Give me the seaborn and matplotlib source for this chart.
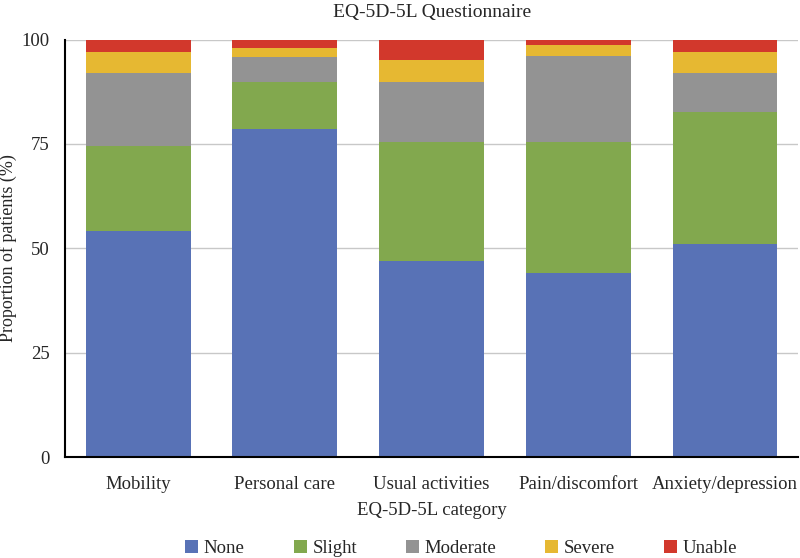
import pandas as pd
import numpy as np
import matplotlib
matplotlib.use('Agg')
import matplotlib.pyplot as plt
import seaborn as sns

# EQ-5D-5L answers, % of patients per category
categories = ['Mobility', 'Personal care', 'Usual activities', 'Pain/discomfort', 'Anxiety/depression']
levels = ['None', 'Slight', 'Moderate', 'Severe', 'Unable']
none_pct = [54.1, 78.7, 46.9, 44.0, 51.1]
slight_pct = [20.4, 11.1, 28.6, 31.5, 31.6]
moderate_pct = [17.4, 6.0, 14.4, 20.5, 9.2]
severe_pct = [5.1, 2.2, 5.1, 2.7, 5.1]
unable_pct = [3.0, 2.0, 5.0, 1.3, 3.0]

colors = ['#5872B6', '#82A84E', '#939393', '#E6B832', '#D2382C']

sns.set_theme(style='white')
plt.rcParams['font.family'] = ['Liberation Serif', 'DejaVu Serif']

df = pd.DataFrame({'category': categories, 'None': none_pct, 'Slight': slight_pct,
                   'Moderate': moderate_pct, 'Severe': severe_pct, 'Unable': unable_pct})
cum = df[levels].cumsum(axis=1)

fig = plt.figure(figsize=(8, 5.58), dpi=100)
ax = fig.add_axes([0.081, 0.181, 0.917, 0.748])

# draw cumulative totals from top down so each level sits on the one below
for lvl, col in reversed(list(zip(levels, colors))):
    sns.barplot(x=df['category'], y=cum[lvl], color=col, width=0.715,
                saturation=1, ax=ax, label=lvl, zorder=2, linewidth=0)

ax.set_ylim(0, 100)
ax.set_yticks([0, 25, 50, 75, 100])
ax.yaxis.grid(True, color='#c8c8c8', linewidth=1, zorder=0)
ax.set_axisbelow(True)
for s in ['top', 'right']:
    ax.spines[s].set_visible(False)
for s in ['left', 'bottom']:
    ax.spines[s].set_color('black')
    ax.spines[s].set_linewidth(1.5)
ax.tick_params(axis='x', labelsize=13.5, length=0, pad=14)
ax.tick_params(axis='y', labelsize=13.5, length=0, pad=11)
ax.set_xlabel('EQ-5D-5L category', fontsize=13.5, labelpad=6)
ax.set_ylabel('Proportion of patients (%)', fontsize=13, labelpad=3)
ax.set_title('EQ-5D-5L Questionnaire', fontsize=14, pad=16)

handles, labels = ax.get_legend_handles_labels()
order = [labels.index(l) for l in levels]
ax.legend([handles[i] for i in order], levels, loc='lower center',
          bbox_to_anchor=(0.54, -0.28), ncol=5, frameon=False, fontsize=13.5,
          handlelength=0.7, handleheight=0.7, columnspacing=2.6, handletextpad=0.3)

fig.savefig('out.png', dpi=100)
